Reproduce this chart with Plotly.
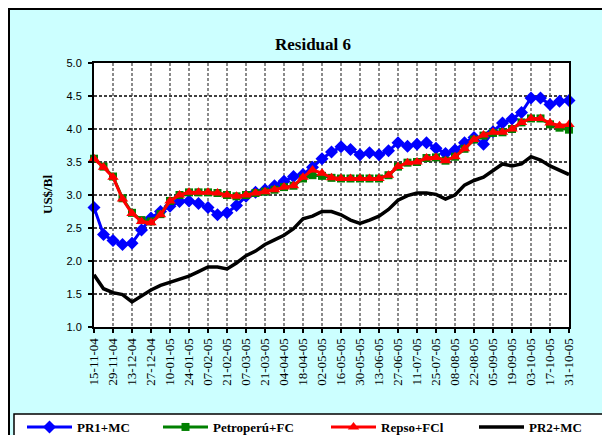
import plotly.graph_objects as go
import pandas as pd

# ---- data ----
weeks = pd.date_range("2004-11-15", "2005-10-31", freq="7D")
tick_labels = ["15-11-04", "29-11-04", "13-12-04", "27-12-04", "10-01-05", "24-01-05",
               "07-02-05", "21-02-05", "07-03-05", "21-03-05", "04-04-05", "18-04-05",
               "02-05-05", "16-05-05", "30-05-05", "13-06-05", "27-06-05", "11-07-05",
               "25-07-05", "08-08-05", "22-08-05", "05-09-05", "19-09-05", "03-10-05",
               "17-10-05", "31-10-05"]

pr1_mc = [2.81, 2.40, 2.31, 2.25, 2.27, 2.47, 2.65, 2.75, 2.83, 2.90,
          2.91, 2.87, 2.81, 2.70, 2.73, 2.84, 2.98, 3.04, 3.08, 3.14,
          3.21, 3.28, 3.31, 3.42, 3.55, 3.65, 3.73, 3.69, 3.61, 3.64,
          3.61, 3.67, 3.79, 3.74, 3.77, 3.79, 3.71, 3.63, 3.68, 3.79,
          3.87, 3.77, 3.96, 4.09, 4.15, 4.25, 4.47, 4.47, 4.37, 4.42, 4.43]

petroperu_fc = [3.55, 3.43, 3.28, 2.95, 2.73, 2.62, 2.60, 2.71, 2.91, 3.00,
                3.04, 3.04, 3.04, 3.03, 3.00, 2.98, 3.00, 3.03, 3.05, 3.08,
                3.12, 3.14, 3.25, 3.30, 3.29, 3.26, 3.25, 3.25, 3.25, 3.25,
                3.25, 3.30, 3.43, 3.49, 3.50, 3.56, 3.57, 3.52, 3.58, 3.70,
                3.84, 3.90, 3.94, 3.95, 4.00, 4.10, 4.16, 4.16, 4.07, 4.02, 3.99]

repso_fcl = [3.55, 3.42, 3.27, 2.94, 2.72, 2.60, 2.58, 2.70, 2.91, 3.00,
             3.04, 3.04, 3.04, 3.03, 3.00, 2.98, 3.00, 3.03, 3.05, 3.08,
             3.12, 3.14, 3.27, 3.38, 3.33, 3.26, 3.25, 3.25, 3.25, 3.25,
             3.25, 3.30, 3.43, 3.49, 3.50, 3.56, 3.57, 3.52, 3.58, 3.70,
             3.84, 3.91, 3.95, 3.95, 4.00, 4.10, 4.16, 4.16, 4.09, 4.05, 4.07]

pr2_mc = [1.79, 1.58, 1.52, 1.49, 1.38, 1.47, 1.56, 1.63, 1.68, 1.73,
          1.77, 1.84, 1.91, 1.91, 1.88, 1.97, 2.08, 2.15, 2.25, 2.32,
          2.39, 2.49, 2.64, 2.68, 2.75, 2.75, 2.70, 2.62, 2.57, 2.62,
          2.68, 2.78, 2.92, 2.99, 3.03, 3.03, 3.01, 2.94, 3.00, 3.15,
          3.22, 3.27, 3.37, 3.47, 3.44, 3.47, 3.58, 3.53, 3.44, 3.37, 3.31]

series_names = ["PR1+MC", "Petroperú+FC", "Repso+FCl", "PR2+MC"]

# ---- layout geometry (figure pixels; page body adds an 8px offset) ----
W, H = 610, 435
L, R, T, B = 86, 561, 55, 319
PW, PH = R - L, B - T


def px_x(x):
    return (x - L) / PW


def px_y(y):
    return (B - y) / PH


SERIF = "Liberation Serif, Times New Roman, serif"
SANS = "Liberation Sans, Arial, sans-serif"

fig = go.Figure()

styles = [
    dict(color="#0000FF", symbol="diamond", size=10),
    dict(color="#008000", symbol="square", size=8),
    dict(color="#FF0000", symbol="triangle-up", size=10),
    dict(color="#000000", symbol=None, size=0),
]
values = [pr1_mc, petroperu_fc, repso_fcl, pr2_mc]
legends = ["legend", "legend2", "legend3", "legend4"]

for name, vals, st, lg in zip(series_names, values, styles, legends):
    if st["symbol"]:
        fig.add_trace(go.Scatter(
            x=weeks, y=vals, name=name, mode="lines+markers",
            line=dict(color=st["color"], width=3),
            marker=dict(symbol=st["symbol"], size=st["size"], color=st["color"],
                        line=dict(width=0)),
            cliponaxis=False, legend=lg))
    else:
        fig.add_trace(go.Scatter(
            x=weeks, y=vals, name=name, mode="lines",
            line=dict(color=st["color"], width=3.5),
            cliponaxis=False, legend=lg))

ITEMW = 45
legend_text_x = [69, 205, 373, 521]
legend_common = dict(orientation="h", bgcolor="rgba(0,0,0,0)", borderwidth=0,
                     itemwidth=ITEMW,
                     font=dict(family=SERIF, size=13, color="black", weight="bold"),
                     xanchor="left", yanchor="middle", y=px_y(419))
legend_layouts = {}
for lg, tx in zip(legends, legend_text_x):
    legend_layouts[lg] = dict(legend_common, x=px_x(tx - ITEMW - 10))

fig.update_layout(
    width=W, height=H,
    margin=dict(l=L, r=W - R, t=T, b=H - B, autoexpand=False),
    paper_bgcolor="#CCFFFF",
    plot_bgcolor="white",
    title=dict(text="<b>Residual 6</b>", x=0.5, y=1 - 36 / H,
               xanchor="center", yanchor="middle",
               font=dict(family=SERIF, size=17, color="black")),
    showlegend=True,
    **legend_layouts,
    xaxis=dict(
        type="date",
        range=[weeks[0], weeks[-1]],
        tickvals=list(weeks[::2]),
        ticktext=tick_labels,
        tickangle=-90,
        tickfont=dict(family=SERIF, size=13, color="black"),
        ticks="outside", ticklen=4, tickcolor="black", tickwidth=2,
        showgrid=True, gridcolor="#8a8a8a", gridwidth=1.5, griddash="3px,2px",
        showline=True, linecolor="black", linewidth=2, mirror=True,
        zeroline=False,
    ),
    yaxis=dict(
        range=[1, 5], dtick=0.5, tick0=1, tickformat=".1f",
        tickfont=dict(family=SANS, size=11, color="black"),
        ticks="outside", ticklen=4, tickcolor="black", tickwidth=2,
        ticklabelstandoff=4,
        showgrid=True, gridcolor="#404040", gridwidth=1.5, griddash="3px,2px",
        showline=True, linecolor="black", linewidth=2, mirror=True,
        zeroline=False,
    ),
    annotations=[
        dict(text="<b>US$/Bl</b>", xref="paper", yref="paper",
             x=px_x(39), y=0.5, textangle=-90, showarrow=False,
             xanchor="center", yanchor="middle",
             font=dict(family=SERIF, size=13, color="black")),
    ],
    shapes=[
        dict(type="rect", xref="paper", yref="paper", layer="below",
             x0=px_x(1), x1=px_x(609), y0=px_y(434), y1=px_y(1),
             fillcolor="rgba(0,0,0,0)", line=dict(color="black", width=2)),
        dict(type="rect", xref="paper", yref="paper", layer="below",
             x0=px_x(6), x1=px_x(597), y0=px_y(445), y1=px_y(406),
             fillcolor="white", line=dict(color="black", width=1.5)),
    ],
)

fig.write_html("out.html")
